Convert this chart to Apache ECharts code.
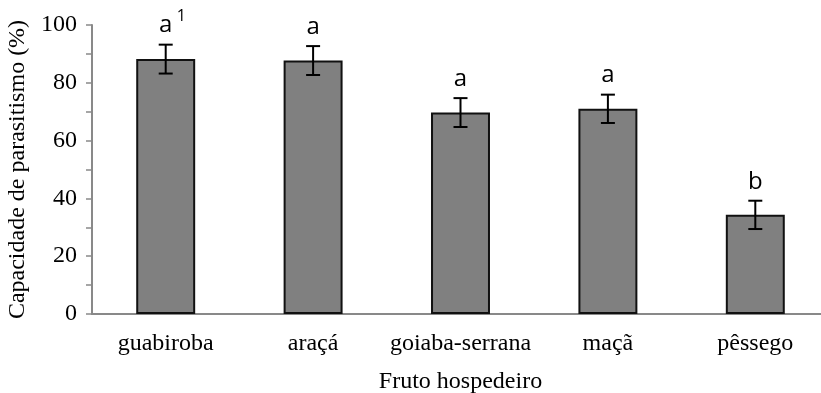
<!DOCTYPE html>
<html><head><meta charset="utf-8">
<script src="https://cdn.jsdelivr.net/npm/echarts@6/dist/echarts.min.js"></script>
<style>html,body{margin:0;padding:0;background:#fff}#c{width:821px;height:393px}</style>
</head><body><div id="c"></div>
<script>
const categories = ['guabiroba', 'araçá', 'goiaba-serrana', 'maçã', 'pêssego'];
const values = [88.2, 87.7, 69.7, 71.0, 34.3];
const errors = [5.0, 5.0, 5.0, 4.9, 4.9];
const letters = ['a', 'a', 'a', 'a', 'b'];
const yTicks = [0, 20, 40, 60, 80, 100];

const chart = echarts.init(document.getElementById('c'));
const serif = '"Liberation Serif", "DejaVu Serif", serif';
const errData = categories.map((c, i) => [i, values[i], errors[i]]);

chart.setOption({
  animation: false,
  grid: { left: 92, right: -8, top: 25, bottom: 79, containLabel: false, outerBoundsMode: 'none' },
  xAxis: {
    type: 'category', data: categories,
    axisLine: { lineStyle: { color: '#898989', width: 2 } },
    axisTick: { show: false },
    axisLabel: { color: '#000', fontFamily: serif, fontSize: 24, margin: 18, interval: 0 },
    name: 'Fruto hospedeiro', nameLocation: 'middle', nameGap: 56,
    nameTextStyle: { color: '#000', fontFamily: serif, fontSize: 24 }
  },
  yAxis: {
    type: 'value', min: yTicks[0], max: yTicks[yTicks.length - 1], interval: 20,
    splitLine: { show: false },
    axisLine: { show: true, lineStyle: { color: '#898989', width: 2 } },
    axisTick: { show: true, length: 6, lineStyle: { color: '#898989', width: 1.5 } },
    minorTick: { show: true, splitNumber: 2, length: 6, lineStyle: { color: '#898989', width: 1.5 } },
    axisLabel: { color: '#000', fontFamily: serif, fontSize: 24, margin: 15 },
    name: 'Capacidade de parasitismo (%)', nameLocation: 'middle', nameGap: 62,
    nameTextStyle: { color: '#000', fontFamily: serif, fontSize: 24 }
  },
  series: [
    {
      type: 'bar', data: values, barWidth: '40%',
      itemStyle: { color: '#808080', borderColor: '#111', borderWidth: 2 }
    },
    {
      type: 'custom', data: errData, z: 10,
      renderItem: function (params, api) {
        const i = api.value(0), v = api.value(1), e = api.value(2);
        const top = api.coord([i, v + e]);
        const bot = api.coord([i, v - e]);
        const x = top[0], hw = 7;
        const style = { stroke: '#000', lineWidth: 2 };
        const children = [
          { type: 'line', shape: { x1: x, y1: top[1], x2: x, y2: bot[1] }, style },
          { type: 'line', shape: { x1: x - hw, y1: top[1], x2: x + hw, y2: top[1] }, style },
          { type: 'line', shape: { x1: x - hw, y1: bot[1], x2: x + hw, y2: bot[1] }, style },
          { type: 'text', style: { text: letters[params.dataIndex], x: x, y: top[1] - 19,
              textAlign: 'center', textVerticalAlign: 'middle',
              font: '24px "Open Sans", "DejaVu Sans", sans-serif', fill: '#000' } }
        ];
        if (params.dataIndex === 0) {
          children.push({ type: 'text', style: { text: '1', x: x + 11, y: top[1] - 28,
            textAlign: 'left', textVerticalAlign: 'middle',
            font: '16px "Open Sans", "DejaVu Sans", sans-serif', fill: '#000' } });
        }
        return { type: 'group', children };
      }
    }
  ]
});
</script></body></html>
